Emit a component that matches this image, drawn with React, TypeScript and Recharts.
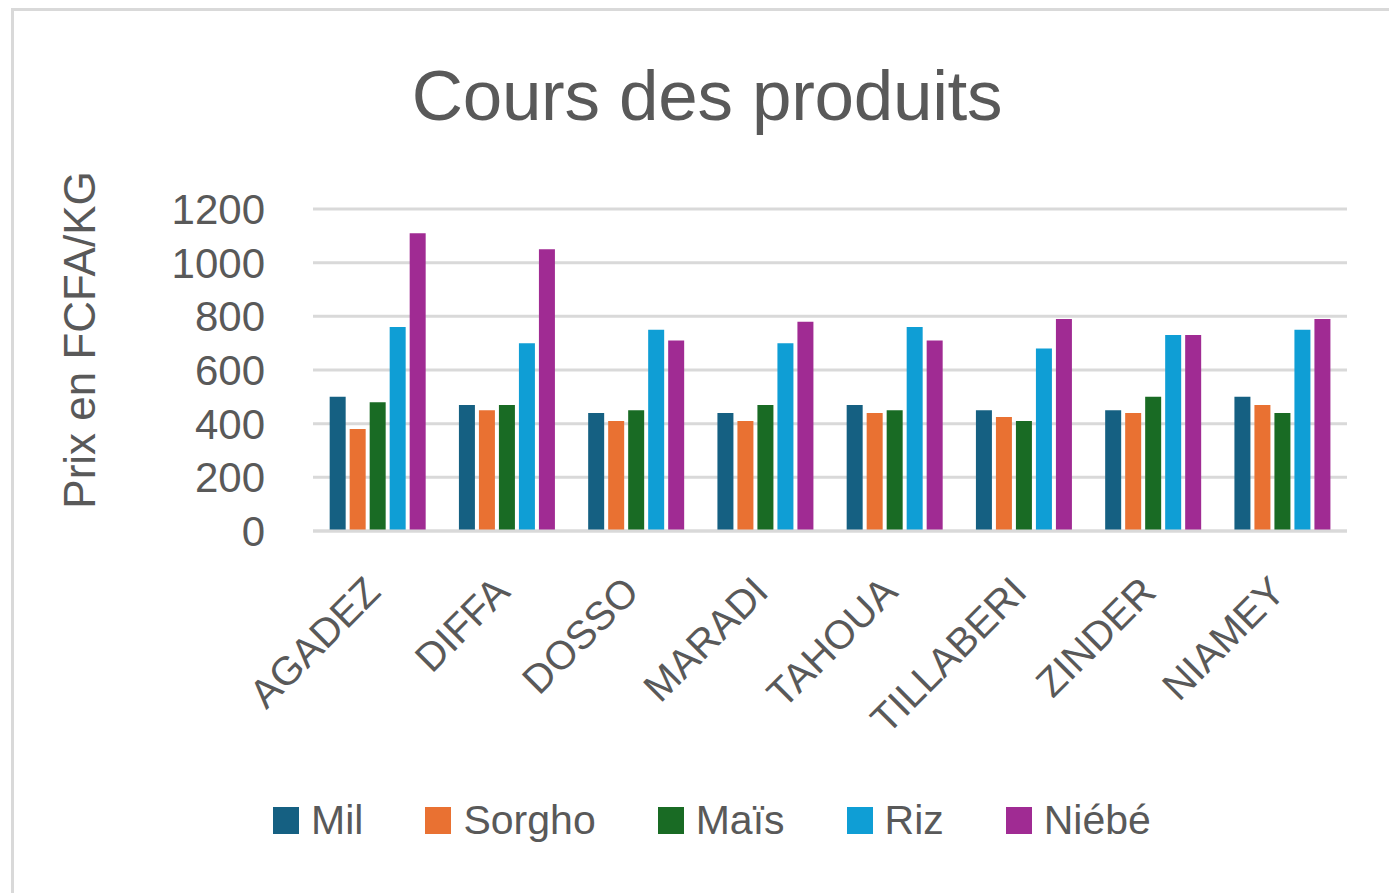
import { BarChart, Bar, XAxis, YAxis, CartesianGrid, Legend } from "recharts";

const categories = ["AGADEZ", "DIFFA", "DOSSO", "MARADI", "TAHOUA", "TILLABERI", "ZINDER", "NIAMEY"];
const mil = [500, 470, 440, 440, 470, 450, 450, 500];
const sorgho = [380, 450, 410, 410, 440, 425, 440, 470];
const mais = [480, 470, 450, 470, 450, 410, 500, 440];
const riz = [760, 700, 750, 700, 760, 680, 730, 750];
const niebe = [1110, 1050, 710, 780, 710, 790, 730, 790];
const yTicks = [0, 200, 400, 600, 800, 1000, 1200];

const series = [
  { key: "mil", name: "Mil", color: "#156082" },
  { key: "sorgho", name: "Sorgho", color: "#E97132" },
  { key: "mais", name: "Maïs", color: "#196B24" },
  { key: "riz", name: "Riz", color: "#0F9ED5" },
  { key: "niebe", name: "Niébé", color: "#A02B93" },
];

const data = categories.map((c, i) => ({
  region: c,
  mil: mil[i],
  sorgho: sorgho[i],
  mais: mais[i],
  riz: riz[i],
  niebe: niebe[i],
}));

const FONT = "'Liberation Sans', Arial, sans-serif";
const TEXT = "#595959";

function XTick(props: any) {
  const { x, y, payload } = props;
  return (
    <g transform={`translate(${x + 5},${y + 61})`}>
      <text textAnchor="end" transform="rotate(-45)" fontSize={40} fill={TEXT} fontFamily={FONT}>
        {payload.value}
      </text>
    </g>
  );
}

function LegendBox() {
  return (
    <div style={{ display: "flex", justifyContent: "center", gap: 62, fontFamily: FONT }}>
      {series.map((s) => (
        <div key={s.key} style={{ display: "flex", alignItems: "center" }}>
          <span style={{ width: 26, height: 27, background: s.color, display: "inline-block", marginRight: 12 }} />
          <span style={{ fontSize: 41, color: TEXT }}>{s.name}</span>
        </div>
      ))}
    </div>
  );
}

export default function App() {
  return (
    <div style={{ position: "absolute", left: 0, top: 0, width: 1389, height: 893, overflow: "hidden", background: "#fff" }}>
      <div style={{ position: "absolute", left: 11, top: 8, width: 1420, height: 920, border: "3px solid #d9d9d9" }} />
      <div
        style={{
          position: "absolute",
          left: 0,
          width: 1414,
          top: 55,
          textAlign: "center",
          fontSize: 71,
          fontFamily: FONT,
          color: TEXT,
          letterSpacing: -0.3,
        }}
      >
        Cours des produits
      </div>
      <div style={{ position: "absolute", left: 0, top: 0 }}>
        <BarChart
          width={1389}
          height={893}
          data={data}
          margin={{ top: 209, right: 42, left: 213, bottom: 262 }}
          barCategoryGap="12.9%"
          barGap={4}
        >
          <CartesianGrid vertical={false} stroke="#d9d9d9" strokeWidth={3} />
          <XAxis
            dataKey="region"
            height={100}
            interval={0}
            tickLine={false}
            tickSize={0}
            axisLine={{ stroke: "#d9d9d9", strokeWidth: 3 }}
            tick={<XTick />}
          />
          <YAxis
            width={100}
            domain={[0, 1200]}
            ticks={yTicks}
            axisLine={false}
            tickLine={false}
            tickSize={0}
            tickMargin={48}
            tick={{ fontSize: 42, fill: TEXT, fontFamily: FONT }}
            label={{
              value: "Prix en FCFA/KG",
              content: () => (
                <text
                  x={79}
                  y={340}
                  transform="rotate(-90 79 340)"
                  textAnchor="middle"
                  dominantBaseline="central"
                  fontSize={44}
                  fill={TEXT}
                  fontFamily={FONT}
                >
                  Prix en FCFA/KG
                </text>
              ),
            }}
          />
          <Legend
            layout="horizontal"
            verticalAlign="middle"
            align="center"
            content={() => <LegendBox />}
            wrapperStyle={{ left: 12, width: 1400, top: 797 }}
          />
          {series.map((s) => (
            <Bar key={s.key} dataKey={s.key} name={s.name} fill={s.color} isAnimationActive={false} />
          ))}
        </BarChart>
      </div>
    </div>
  );
}
